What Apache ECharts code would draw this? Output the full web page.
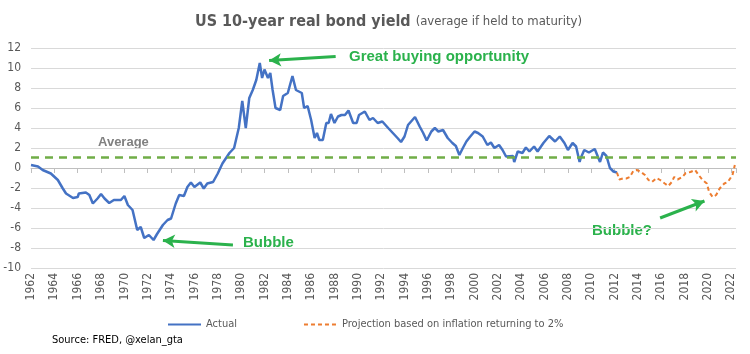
<!DOCTYPE html>
<html>
<head>
<meta charset="utf-8">
<script src="https://cdn.jsdelivr.net/npm/echarts@6/dist/echarts.min.js"></script>
<style>
  html, body { margin: 0; padding: 0; background: #fff; }
  #main { width: 750px; height: 354px; }
</style>
</head>
<body>
<div id="main"></div>
<script>
// real 10y yield (year, %)
var actualYears = [1962.0, 1962.6, 1963.0, 1963.7, 1964.3, 1964.7, 1965.0, 1965.6, 1966.0, 1966.1,
    1966.7, 1967.0, 1967.3, 1967.7, 1968.0, 1968.3, 1968.7, 1969.1, 1969.7, 1970.0,
    1970.3, 1970.7, 1971.1, 1971.4, 1971.7, 1972.1, 1972.5, 1972.8, 1973.3, 1973.7,
    1974.0, 1974.4, 1974.7, 1975.1, 1975.4, 1975.7, 1976.0, 1976.5, 1976.8, 1977.1,
    1977.6, 1978.0, 1978.4, 1979.0, 1979.4, 1979.8, 1980.1, 1980.4, 1980.7, 1981.0,
    1981.3, 1981.6, 1981.8, 1982.0, 1982.3, 1982.5, 1982.7, 1982.95, 1983.35, 1983.6,
    1984.0, 1984.4, 1984.7, 1985.2, 1985.4, 1985.7, 1986.0, 1986.3, 1986.5, 1986.7,
    1987.0, 1987.3, 1987.5, 1987.7, 1988.0, 1988.3, 1988.6, 1988.9, 1989.2, 1989.6,
    1989.9, 1990.1, 1990.6, 1991.0, 1991.3, 1991.7, 1992.1, 1992.6, 1993.0, 1993.4,
    1993.7, 1994.0, 1994.3, 1994.9, 1995.3, 1995.6, 1995.9, 1996.3, 1996.6, 1996.9,
    1997.3, 1997.7, 1998.1, 1998.4, 1998.7, 1999.0, 1999.3, 1999.6, 2000.0, 2000.3,
    2000.7, 2001.1, 2001.4, 2001.7, 2002.1, 2002.4, 2002.7, 2003.3, 2003.4, 2003.7,
    2004.1, 2004.4, 2004.7, 2005.1, 2005.4, 2005.9, 2006.4, 2006.9, 2007.3, 2007.7,
    2008.0, 2008.4, 2008.7, 2009.0, 2009.1, 2009.4, 2009.8, 2010.3, 2010.75, 2011.0,
    2011.3, 2011.6, 2011.9, 2012.2];
var actualValues = [0.3, 0.15, -0.2, -0.55, -1.2, -2.0, -2.55, -3.0, -2.9, -2.55,
    -2.45, -2.7, -3.55, -3.05, -2.6, -3.05, -3.5, -3.2, -3.2, -2.8,
    -3.7, -4.2, -6.2, -5.9, -7.0, -6.7, -7.2, -6.6, -5.7, -5.2,
    -5.05, -3.55, -2.7, -2.8, -1.9, -1.45, -1.9, -1.45, -2.05, -1.55,
    -1.4, -0.55, 0.45, 1.5, 2.0, 4.0, 6.7, 4.0, 7.0, 7.8,
    8.8, 10.5, 9.0, 9.85, 9.0, 9.5, 7.8, 6.0, 5.8, 7.2,
    7.5, 9.2, 7.8, 7.5, 6.0, 6.2, 4.8, 3.0, 3.5, 2.8,
    2.8, 4.5, 4.5, 5.4, 4.5, 5.15, 5.3, 5.3, 5.75, 4.5,
    4.5, 5.3, 5.65, 4.8, 5.0, 4.5, 4.65, 4.0, 3.5, 3.0,
    2.6, 3.15, 4.3, 5.1, 4.15, 3.5, 2.75, 3.65, 4.0, 3.65,
    3.8, 3.0, 2.5, 2.2, 1.3, 2.0, 2.65, 3.1, 3.65, 3.5,
    3.15, 2.3, 2.55, 2.0, 2.3, 1.8, 1.15, 1.2, 0.6, 1.65,
    1.5, 2.05, 1.65, 2.15, 1.65, 2.5, 3.2, 2.65, 3.15, 2.5,
    1.8, 2.5, 2.15, 0.6, 1.0, 1.8, 1.55, 1.9, 0.6, 1.55,
    1.2, 0.0, -0.35, -0.45];

// projection with inflation back to 2%
var projYears = [2012.2, 2012.4, 2012.7, 2013.0, 2013.3, 2013.6, 2013.9, 2014.2, 2014.6, 2014.9,
    2015.2, 2015.6, 2015.9, 2016.3, 2016.6, 2016.9, 2017.1, 2017.4, 2017.8, 2018.1,
    2018.5, 2018.9, 2019.2, 2019.5, 2019.9, 2020.1, 2020.4, 2020.7, 2021.0, 2021.4,
    2021.7, 2022.1, 2022.3];
var projValues = [-0.45, -1.15, -1.05, -1.05, -0.9, -0.3, -0.2, -0.35, -0.7, -1.2,
    -1.4, -1.0, -1.2, -1.55, -1.8, -1.4, -0.9, -1.15, -0.9, -0.5,
    -0.4, -0.2, -0.7, -1.15, -1.55, -2.4, -2.9, -2.7, -2.05, -1.55,
    -1.4, -0.7, 0.3];

var averageYield = 1.05;
var yTicks = [-10, 12, 2];   // min, max, step
var xTicks = [1962, 2022.4, 2];

function pairs(xs, ys) {
    return xs.map(function (x, i) { return [x, ys[i]]; });
}

var green = '#2BB24C';
var axisFont = 'Liberation Sans Narrow, DejaVu Sans Condensed, sans-serif';
var noteFont = 'Liberation Sans, Arial, sans-serif';

var chart = echarts.init(document.getElementById('main'));

chart.setOption({
    backgroundColor: '#fff',
    animation: false,
    title: {
        left: 190,
        top: 8,
        text: '{b|US 10-year real bond yield} {n|(average if held to maturity)}',
        textStyle: {
            rich: {
                b: { fontFamily: axisFont, fontWeight: 'bold', fontSize: 16, color: '#595959' },
                n: { fontFamily: axisFont, fontWeight: 'normal', fontSize: 13, color: '#595959' }
            }
        }
    },
    grid: { left: 31, right: 14, top: 48, bottom: 86 },
    legend: {
        left: 162,
        top: 314,
        itemWidth: 33,
        itemHeight: 10,
        itemGap: 66,
        itemStyle: { opacity: 0 },
        textStyle: { fontFamily: axisFont, fontSize: 11, color: '#595959' },
        data: ['Actual', 'Projection based on inflation returning to 2%']
    },
    xAxis: [{
        type: 'value',
        min: xTicks[0], max: xTicks[1], interval: xTicks[2],
        axisLine: { onZero: true, lineStyle: { color: '#BFBFBF', width: 1 } },
        axisTick: { show: true, length: 5, lineStyle: { color: '#BFBFBF' } },
        axisLabel: { show: false },
        splitLine: { show: false }
    }, {
        type: 'value',
        position: 'bottom',
        min: xTicks[0], max: xTicks[1], interval: xTicks[2],
        axisLine: { show: false, onZero: false },
        axisTick: { show: false },
        splitLine: { show: false },
        axisLabel: {
            rotate: 90,
            margin: 5,
            fontFamily: axisFont,
            fontSize: 12,
            color: '#595959',
            showMaxLabel: false,
            formatter: function (v) { return String(v); }
        }
    }],
    yAxis: {
        type: 'value',
        min: yTicks[0], max: yTicks[1], interval: yTicks[2],
        axisLine: { show: false },
        axisTick: { show: false },
        axisLabel: { fontFamily: axisFont, fontSize: 12, color: '#595959', margin: 10 },
        splitLine: { lineStyle: { color: '#D9D9D9', width: 1 } }
    },
    series: [{
        name: 'Actual',
        type: 'line',
        data: pairs(actualYears, actualValues),
        showSymbol: false,
        symbol: 'none',
        itemStyle: { color: '#4472C4' },
        lineStyle: { color: '#4472C4', width: 2.5 },
        z: 3,
        markLine: {
            silent: true,
            label: { show: false },
            data: [
                [{ coord: [xTicks[0], averageYield], symbol: 'none',
                   lineStyle: { color: '#70AD47', width: 2.5, type: [8, 6] } },
                 { coord: [xTicks[1], averageYield], symbol: 'none' }]
            ]
        }
    }, {
        name: 'Projection based on inflation returning to 2%',
        type: 'line',
        data: pairs(projYears, projValues),
        showSymbol: false,
        symbol: 'none',
        itemStyle: { color: '#ED7D31' },
        lineStyle: { color: '#ED7D31', width: 2, type: [4, 3] },
        z: 3
    }, {
        // annotation arrows only
        name: 'arrows',
        type: 'line',
        data: [],
        markLine: {
            silent: true,
            label: { show: false },
            symbol: ['none', 'arrow'],
            symbolSize: [10, 12],
            lineStyle: { color: green, width: 3, type: 'solid' },
            data: [
                [{ coord: [1988.1, 11.15] }, { coord: [1982.4, 10.75] }],
                [{ coord: [1979.3, -7.7] }, { coord: [1973.3, -7.25] }],
                [{ coord: [2015.9, -5.0] }, { coord: [2019.7, -3.3] }]
            ]
        }
    }],
    graphic: [
        { type: 'text', left: 98, top: 136,
          style: { text: 'Average', fill: '#808080', font: 'bold 13px ' + noteFont } },
        { type: 'text', left: 349, top: 49,
          style: { text: 'Great buying opportunity', fill: green, font: 'bold 15px ' + noteFont } },
        { type: 'text', left: 243, top: 235,
          style: { text: 'Bubble', fill: green, font: 'bold 15px ' + noteFont } },
        { type: 'text', left: 592, top: 223,
          style: { text: 'Bubble?', fill: green, font: 'bold 15px ' + noteFont } },
        { type: 'text', left: 52, top: 335,
          style: { text: 'Source: FRED, @xelan_gta', fill: '#000', font: '11px ' + axisFont } }
    ]
});
</script>
</body>
</html>
